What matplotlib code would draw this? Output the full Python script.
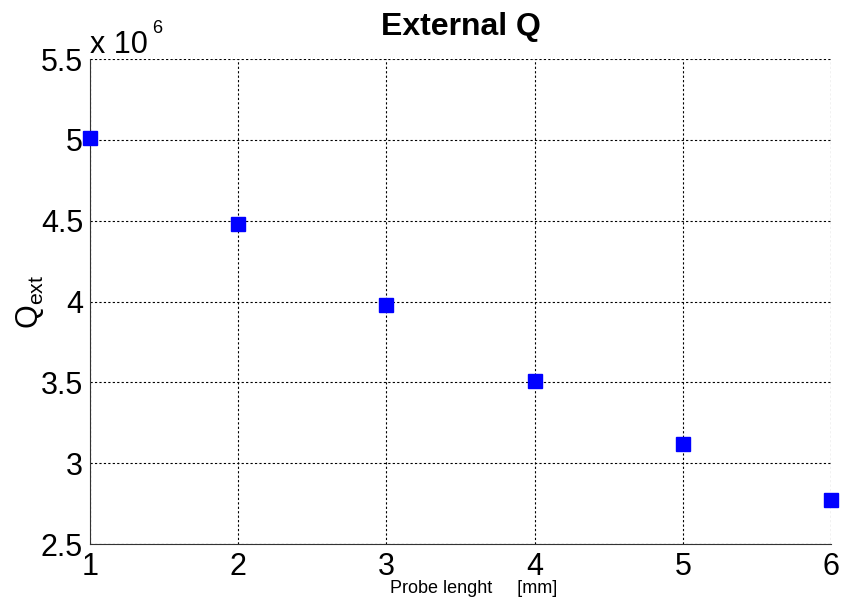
import matplotlib.pyplot as plt

plt.rcParams['font.family'] = ['Liberation Sans', 'DejaVu Sans']

# probe length [mm] and external Q (x 10^6)
probe_length = [1, 2, 3, 4, 5, 6]
q_ext = [5.01, 4.48, 3.98, 3.51, 3.12, 2.77]

y_ticks = [2.5, 3, 3.5, 4, 4.5, 5, 5.5]
y_ticklabels = ['2.5', '3', '3.5', '4', '4.5', '5', '5.5']

fig = plt.figure(figsize=(8.49, 6.06), dpi=100)
ax = fig.add_axes([0.106, 0.1023, 0.873, 0.8003])

ax.plot(probe_length, q_ext, 's', color='blue', markersize=10.5, clip_on=False, zorder=3)

ax.set_xlim(1, 6)
ax.set_ylim(2.5, 5.5)
ax.set_xticks(probe_length)
ax.set_yticks(y_ticks)
ax.set_yticklabels(y_ticklabels)
ax.tick_params(labelsize=22, direction='in', length=0)
ax.tick_params(axis='y', pad=5)
ax.tick_params(axis='x', pad=6)

ax.grid(True, color='black', linestyle=(0, (2, 2)), linewidth=0.8)
ax.spines['top'].set_visible(False)
ax.spines['right'].set_visible(False)
ax.spines['left'].set_color('#333333')
ax.spines['bottom'].set_color('#333333')

# title, placed by its baseline
ax.text(0.5, 1.0495, 'External Q', transform=ax.transAxes, fontsize=23,
        fontweight='bold', ha='center', va='baseline')
ax.set_xlabel('Probe lenght     [mm]', fontsize=13)
ax.xaxis.set_label_coords(0.517, -0.075)
ax.set_ylabel('Q$_{\\mathregular{ext}}$', fontsize=22, labelpad=-4)

# exponent note
ax.text(0.0, 1.0124, 'x 10', transform=ax.transAxes, fontsize=22,
        ha='left', va='baseline')
ax.text(0.0837, 1.0536, '6', transform=ax.transAxes, fontsize=13,
        ha='left', va='baseline')

fig.savefig('out.png', dpi=100)
